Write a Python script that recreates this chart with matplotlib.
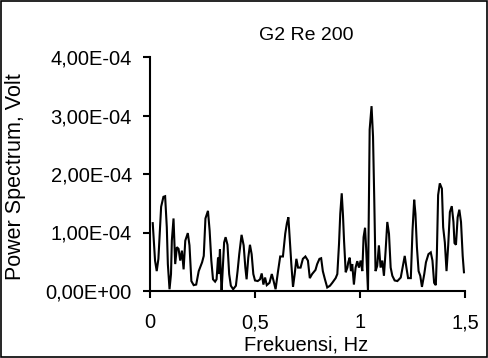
import numpy as np
import matplotlib
matplotlib.use("Agg")
import matplotlib.pyplot as plt
from matplotlib.ticker import FuncFormatter
from matplotlib.patches import Rectangle

title = "G2 Re 200"
xlabel = "Frekuensi, Hz"
ylabel = "Power Spectrum, Volt"

freq = [0.013, 0.024, 0.032, 0.040, 0.053, 0.064, 0.072, 0.080, 0.085, 0.093,
        0.100, 0.104, 0.112, 0.120, 0.128, 0.136, 0.144, 0.152, 0.160, 0.168,
        0.180, 0.188, 0.197, 0.208, 0.220, 0.232, 0.248, 0.256, 0.264, 0.276,
        0.284, 0.292, 0.300, 0.310, 0.317, 0.324, 0.328, 0.333, 0.338, 0.341,
        0.353, 0.360, 0.369, 0.377, 0.385, 0.396, 0.409, 0.417, 0.425, 0.436,
        0.446, 0.454, 0.460, 0.468, 0.476, 0.484, 0.492, 0.500, 0.513, 0.524,
        0.532, 0.540, 0.548, 0.556, 0.569, 0.580, 0.588, 0.598, 0.609, 0.620,
        0.633, 0.644, 0.652, 0.659, 0.665, 0.673, 0.681, 0.689, 0.697, 0.705,
        0.717, 0.728, 0.740, 0.752, 0.761, 0.772, 0.788, 0.796, 0.807, 0.815,
        0.823, 0.833, 0.844, 0.857, 0.868, 0.884, 0.892, 0.900, 0.906, 0.913,
        0.919, 0.924, 0.932, 0.940, 0.944, 0.951, 0.957, 0.963, 0.971, 0.979,
        0.987, 0.995, 1.003, 1.011, 1.017, 1.024, 1.029, 1.038, 1.046, 1.055,
        1.062, 1.068, 1.074, 1.082, 1.090, 1.098, 1.106, 1.114, 1.122, 1.130,
        1.138, 1.146, 1.154, 1.165, 1.178, 1.194, 1.206, 1.213, 1.221, 1.229,
        1.242, 1.250, 1.258, 1.264, 1.271, 1.279, 1.287, 1.295, 1.306, 1.314,
        1.326, 1.337, 1.345, 1.353, 1.361, 1.366, 1.372, 1.380, 1.390, 1.396,
        1.404, 1.412, 1.420, 1.428, 1.437, 1.445, 1.450, 1.457, 1.465, 1.473,
        1.481, 1.489, 1.495]

power_e4 = [1.16, 0.52, 0.34, 0.55, 1.44, 1.61, 1.62, 1.09, 0.46, 0.03,
            0.29, 0.86, 1.24, 0.46, 0.75, 0.72, 0.52, 0.69, 0.37, 0.86,
            0.99, 0.78, 0.17, 0.10, 0.11, 0.34, 0.49, 0.60, 1.24, 1.37,
            1.03, 0.52, 0.20, 0.16, 0.20, 0.57, 0.29, 0.71, 0.23, 0.00,
            0.83, 0.92, 0.79, 0.29, 0.09, 0.03, 0.09, 0.34, 0.63, 0.96,
            0.78, 0.40, 0.20, 0.57, 0.79, 0.63, 0.29, 0.18, 0.17, 0.20,
            0.30, 0.11, 0.23, 0.10, 0.14, 0.29, 0.18, 0.03, 0.32, 0.59,
            0.59, 0.98, 1.16, 1.26, 0.92, 0.46, 0.07, 0.29, 0.55, 0.40,
            0.40, 0.55, 0.59, 0.52, 0.22, 0.29, 0.36, 0.46, 0.55, 0.56,
            0.34, 0.20, 0.06, 0.09, 0.14, 0.22, 0.29, 0.80, 1.32, 1.67,
            1.29, 0.86, 0.32, 0.40, 0.49, 0.57, 0.34, 0.46, 0.11, 0.40,
            0.51, 0.40, 0.52, 0.34, 0.92, 1.08, 0.75, 0.00, 2.76, 3.16,
            2.64, 1.55, 0.34, 0.43, 0.78, 0.40, 0.52, 0.26, 0.69, 1.18,
            0.98, 0.40, 0.26, 0.18, 0.17, 0.23, 0.46, 0.60, 0.40, 0.22,
            0.22, 1.03, 1.56, 1.32, 0.75, 0.34, 0.26, 0.07, 0.29, 0.49,
            0.63, 0.66, 0.52, 0.14, 0.10, 0.63, 1.64, 1.84, 1.75, 1.09,
            0.83, 0.34, 0.78, 1.35, 1.45, 1.18, 0.82, 0.79, 1.26, 1.39,
            1.18, 0.60, 0.32]
power = np.array(power_e4) * 1e-4

xticks = [0, 0.5, 1, 1.5]
xticklabels = ["0", "0,5", "1", "1,5"]
yticks = [0, 1e-4, 2e-4, 3e-4, 4e-4]

plt.rcParams['font.family'] = ['Liberation Sans', 'DejaVu Sans']
fs = 14.5

fig = plt.figure(figsize=(4.88, 3.58), dpi=100)
ax = fig.add_axes([150/488, 67/358, 315/488, 234/358])
ax.plot(freq, power, color='black', lw=1.5, clip_on=False, solid_joinstyle='miter')
ax.set_xlim(0, 1.5)
ax.set_ylim(0, 4e-4)
ax.spines['top'].set_visible(False)
ax.spines['right'].set_visible(False)
for s in ('left', 'bottom'):
    ax.spines[s].set_linewidth(1.5)
ax.set_xticks(xticks)
ax.set_xticklabels(xticklabels)
ax.set_yticks(yticks)
ax.yaxis.set_major_formatter(FuncFormatter(lambda v, p: f"{v:.2E}".replace('.', ',')))
ax.tick_params(axis='x', direction='out', length=5, width=1.5, pad=11, labelsize=fs)
ax.tick_params(axis='y', direction='out', length=5, width=1.5, pad=8, labelsize=fs)

fig.text(306/488, 1 - 35/358, title, ha='center', va='center', fontsize=14)
fig.text(306/488, 1 - 345/358, xlabel, ha='center', va='center', fontsize=fs)
fig.text(16/488, 1 - 177/358, ylabel, ha='center', va='center', rotation=90, fontsize=15.5)

fig.patches.append(Rectangle((0.002, 0.003), 0.995, 0.994, transform=fig.transFigure,
                             fill=False, edgecolor='black', linewidth=1.2))

fig.savefig("out.png", dpi=100)
